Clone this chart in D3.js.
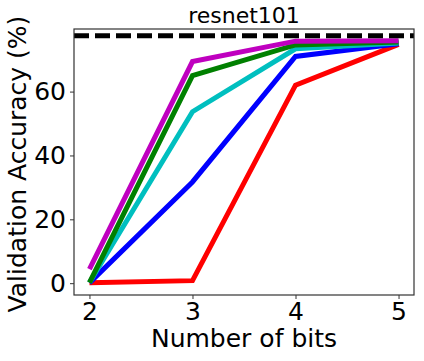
<!DOCTYPE html>
<html>
<head>
<meta charset="utf-8">
<script src="https://cdn.jsdelivr.net/npm/d3@7"></script>
<style>
  body { margin: 0; background: #fff; }
  text { font-family: "DejaVu Sans", sans-serif; fill: #000; }
</style>
</head>
<body>
<div id="chart"></div>
<script>
var width = 424;
var height = 361;

// data
var bits = [2, 3, 4, 5];
var redVals = [0.1, 0.8, 62.0, 74.8];
var blueVals = [0.1, 31.7, 71.0, 75.0];
var cyanVals = [0.2, 53.7, 73.4, 75.2];
var greenVals = [0.2, 65.0, 74.6, 75.5];
var magentaVals = [4.4, 69.4, 75.8, 75.9];
var baseline = 77.5;
var xTicks = [2, 3, 4, 5];
var yTicks = [0, 20, 40, 60];

var series = [
    {vals: redVals, color: "#ff0000"},
    {vals: blueVals, color: "#0000ff"},
    {vals: cyanVals, color: "#00bfbf"},
    {vals: greenVals, color: "#008000"},
    {vals: magentaVals, color: "#bf00bf"}
];

var pLeft = 74, pRight = 414, pTop = 29, pBottom = 295;

var x = d3.scaleLinear().domain([1.85, 5.15]).range([pLeft, pRight]);
var y = d3.scaleLinear().domain([-3.7, 79.6]).range([pBottom, pTop]);

var svg = d3.select("#chart")
    .append("svg")
    .attr("width", width)
    .attr("height", height);

svg.append("clipPath").attr("id", "clip")
    .append("rect")
    .attr("x", pLeft).attr("y", pTop)
    .attr("width", pRight - pLeft).attr("height", pBottom - pTop);

var plot = svg.append("g").attr("clip-path", "url(#clip)");

var line = d3.line()
    .x(function(d, i) { return x(bits[i]); })
    .y(function(d) { return y(d); });

series.forEach(function(s) {
    plot.append("path")
        .datum(s.vals)
        .attr("d", line)
        .attr("fill", "none")
        .attr("stroke", s.color)
        .attr("stroke-width", 5)
        .attr("stroke-linejoin", "miter");
});

plot.append("line")
    .attr("x1", pLeft).attr("x2", pRight)
    .attr("y1", y(baseline)).attr("y2", y(baseline))
    .attr("stroke", "#000")
    .attr("stroke-width", 5)
    .attr("stroke-dasharray", "15,6");

// axes
var xAxis = svg.append("g")
    .attr("transform", "translate(0," + pBottom + ")")
    .call(d3.axisBottom(x).tickValues(xTicks).tickSize(4).tickPadding(3).tickFormat(d3.format("d")));
var yAxis = svg.append("g")
    .attr("transform", "translate(" + pLeft + ",0)")
    .call(d3.axisLeft(y).tickValues(yTicks).tickSize(4).tickPadding(4).tickFormat(d3.format("d")));

[xAxis, yAxis].forEach(function(a) {
    a.select(".domain").remove();
    a.selectAll(".tick line").attr("stroke", "#333");
    a.selectAll(".tick text")
        .style("font-family", "DejaVu Sans")
        .style("font-size", "25px")
        .attr("fill", "#000");
});

svg.append("rect")
    .attr("x", pLeft).attr("y", pTop)
    .attr("width", pRight - pLeft).attr("height", pBottom - pTop)
    .attr("fill", "none")
    .attr("stroke", "#333")
    .attr("stroke-width", 1.2);

svg.append("text")
    .attr("x", (pLeft + pRight) / 2)
    .attr("y", 23)
    .attr("text-anchor", "middle")
    .style("font-size", "22px")
    .text("resnet101");

svg.append("text")
    .attr("x", (pLeft + pRight) / 2)
    .attr("y", 347)
    .attr("text-anchor", "middle")
    .style("font-size", "25px")
    .text("Number of bits");

svg.append("text")
    .attr("transform", "translate(26," + ((pTop + pBottom) / 2 + 2) + ") rotate(-90)")
    .attr("text-anchor", "middle")
    .style("font-size", "25px")
    .text("Validation Accuracy (%)");
</script>
</body>
</html>
